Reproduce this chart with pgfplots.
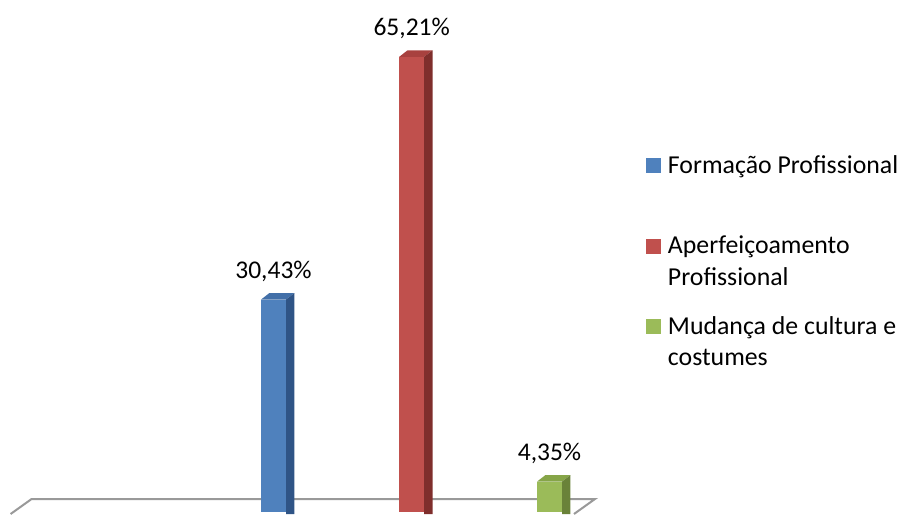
\documentclass[border=0pt]{standalone}
\usepackage{pgfplots}
\pgfplotsset{compat=1.18}
\usepackage{fontspec}
\setmainfont{Carlito}
\definecolor{bfront}{HTML}{4F81BD}
\definecolor{btop}{HTML}{426FA8}
\definecolor{bside}{HTML}{2F5486}
\definecolor{rfront}{HTML}{C0504D}
\definecolor{rtop}{HTML}{A8413F}
\definecolor{rside}{HTML}{7F2E2C}
\definecolor{gfront}{HTML}{9BBB59}
\definecolor{gtop}{HTML}{86A548}
\definecolor{gside}{HTML}{6A8239}
\definecolor{floorgray}{HTML}{999999}
\pgfplotsset{
  barlegend/.style={legend image code/.code={\fill[##1,draw=none] (0pt,31.5pt) rectangle (15pt,46.5pt); \path (22pt,0pt);}},
  frontbar/.style={ybar, bar width=25pt, bar shift=0pt, draw=none, fill=#1, barlegend,
    point meta=y, nodes near coords={\pgfmathprintnumber{\pgfplotspointmeta}\%},
    every node near coord/.append style={anchor=base, yshift=21.5pt, inner sep=0pt, font=\fontsize{25.5}{31.5}\selectfont, text=black}},
}
\begin{document}
\fontsize{25.5}{31.5}\selectfont
\begin{tikzpicture}
\begin{axis}[
  scale only axis, width=907pt, height=514pt,
  xmin=0, xmax=907, ymin=-0.2865, ymax=73.352,
  axis lines=none,
  /pgf/number format/use comma,
  /pgf/number format/fixed,
  /pgf/number format/fixed zerofill,
  /pgf/number format/precision=2,
  /pgf/number format/assume math mode=true,
  legend style={at={(0.7122,0.7018)}, anchor=north west, draw=none, fill=none,
    inner sep=0pt, outer sep=0pt, row sep=20pt,
    cells={anchor=base west},
    nodes={inner sep=0pt, align=left, text height=51.5pt, text depth=9pt, font=\fontsize{25.8}{31.5}\selectfont}},
]
% floor
\addplot[forget plot, draw=floorgray, line width=2pt] coordinates {(10.6,-0.2865) (31.6,1.862) (595,1.862) (574,-0.2865)};
% Formação Profissional
\addplot[frontbar=bfront] coordinates {(273.5,30.43)};
\addlegendentry{Formação Profissional\\\strut}
\addplot[forget plot, fill=btop, draw=none] coordinates {(261,30.43) (286,30.43) (294.3,31.36) (269.3,31.36)} --cycle;
\addplot[forget plot, fill=bside, draw=none] coordinates {(286,-0.2865) (286,30.43) (294.3,31.36) (294.3,-0.2865)} --cycle;
% Aperfeiçoamento Profissional
\addplot[frontbar=rfront] coordinates {(411.7,65.21)};
\addlegendentry{Aperfeiçoamento\\Profissional}
\addplot[forget plot, fill=rtop, draw=none] coordinates {(399.2,65.21) (424.2,65.21) (432.5,66.14) (407.5,66.14)} --cycle;
\addplot[forget plot, fill=rside, draw=none] coordinates {(424.2,-0.2865) (424.2,65.21) (432.5,66.14) (432.5,-0.2865)} --cycle;
% Mudança de cultura e costumes
\addplot[frontbar=gfront] coordinates {(549.5,4.35)};
\addlegendentry{Mudança de cultura e\\costumes}
\addplot[forget plot, fill=gtop, draw=none] coordinates {(537,4.35) (562,4.35) (570.3,5.28) (545.3,5.28)} --cycle;
\addplot[forget plot, fill=gside, draw=none] coordinates {(562,-0.2865) (562,4.35) (570.3,5.28) (570.3,-0.2865)} --cycle;
\end{axis}
\pgfresetboundingbox
\path[use as bounding box] (current axis.south west) rectangle (current axis.north east);
\end{tikzpicture}
\end{document}
